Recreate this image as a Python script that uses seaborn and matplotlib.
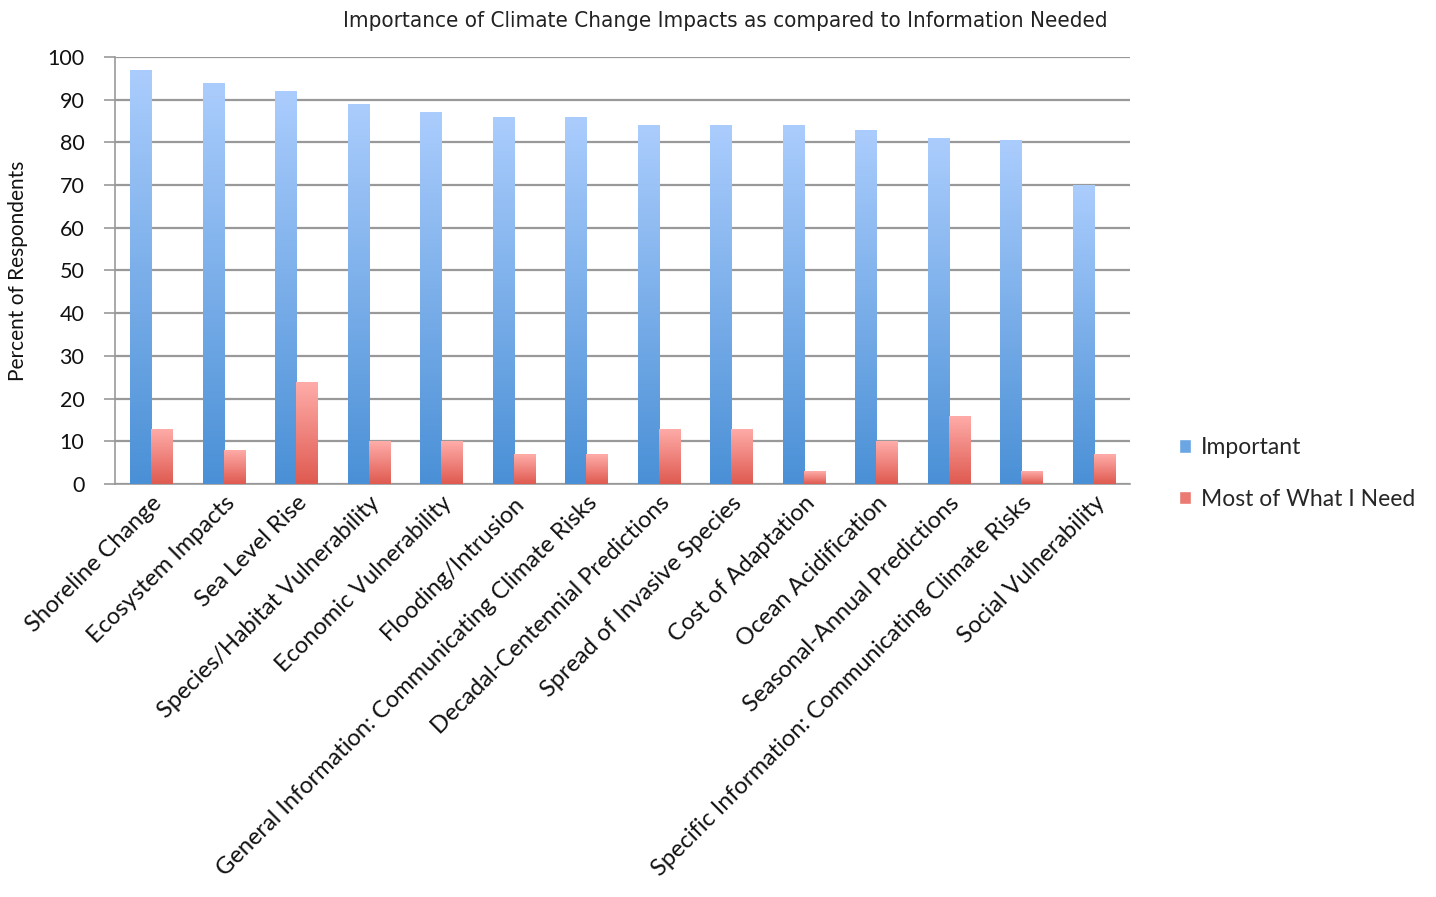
import numpy as np
import pandas as pd
import matplotlib
matplotlib.use("Agg")
import matplotlib.pyplot as plt
import seaborn as sns
from matplotlib.colors import LinearSegmentedColormap

# Donnees
categories = [
    "Shoreline Change",
    "Ecosystem Impacts",
    "Sea Level Rise",
    "Species/Habitat Vulnerability",
    "Economic Vulnerability",
    "Flooding/Intrusion",
    "General Information: Communicating Climate Risks",
    "Decadal-Centennial Predictions",
    "Spread of Invasive Species",
    "Cost of Adaptation",
    "Ocean Acidification",
    "Seasonal-Annual Predictions",
    "Specific Information: Communicating Climate Risks",
    "Social Vulnerability",
]
important = [97, 94, 92, 89, 87, 86, 86, 84, 84, 84, 83, 81, 80.5, 70]
most_needed = [13, 8, 24, 10, 10, 7, 7, 13, 13, 3, 10, 16, 3, 7]
series_names = ["Important", "Most of What I Need"]
y_ticks = list(range(0, 101, 10))

df = pd.DataFrame({
    "categorie": categories * 2,
    "valeur": important + most_needed,
    "serie": [series_names[0]] * len(categories) + [series_names[1]] * len(categories),
})

sns.set_style("white")
plt.rcParams["font.family"] = ["Lato", "DejaVu Sans"]

fig = plt.figure(figsize=(14.36, 8.97), dpi=100)
ax = fig.add_axes([0.080, 0.4604, 0.707, 0.4761])

base_colors = {"Important": "#5b9bd9", "Most of What I Need": "#e7635b"}
sns.barplot(data=df, x="categorie", y="valeur", hue="serie", order=categories,
            hue_order=series_names, palette=base_colors, width=0.58, gap=0,
            saturation=1, ax=ax, legend=False, zorder=3)

# ===== DEGRADES =====
grad = {
    0: LinearSegmentedColormap.from_list("bleu", ["#4a90d6", "#abcdfd"]),
    1: LinearSegmentedColormap.from_list("rouge", ["#df5a50", "#ffadaa"]),
}
n = len(categories)
for i, p in enumerate(ax.patches[:2 * n]):
    s = i // n
    x0, y0 = p.get_x(), p.get_y()
    w, h = p.get_width(), p.get_height()
    img = np.linspace(0, 1, 256).reshape(-1, 1)
    im = ax.imshow(img, extent=[x0, x0 + w, y0, y0 + h], origin="lower",
                   cmap=grad[s], aspect="auto", zorder=4)
    im.set_clip_path(p)
    p.set_alpha(0)

ax.set_xlim(-0.5, n - 0.5)
ax.set_ylim(0, 100)
ax.set_yticks(y_ticks)
ax.set_yticklabels([str(t) for t in y_ticks], fontsize=15.5, color="#111111")
ax.yaxis.grid(True, color="#999999", linewidth=1.6, zorder=0)
ax.set_axisbelow(True)

# ticks x aux frontieres des categories
ax.set_xticks(np.arange(n + 1) - 0.5, minor=True)
ax.set_xticks(np.arange(n))
ax.set_xticklabels(categories, rotation=45, ha="right", rotation_mode="anchor",
                   fontsize=17, color="#111111")
ax.tick_params(axis="x", which="major", length=0, pad=6)
ax.tick_params(axis="x", which="minor", length=6, color="#999999", width=1.2, direction="out")
ax.tick_params(axis="y", length=8, color="#999999", width=1.2, direction="out", pad=14, left=True)

for side in ["top", "right"]:
    ax.spines[side].set_visible(False)
for side in ["left", "bottom"]:
    ax.spines[side].set_color("#999999")
    ax.spines[side].set_linewidth(1.2)

ax.set_xlabel("")
ax.set_ylabel("Percent of Respondents", fontsize=15, color="#111111", labelpad=14)

fig.suptitle("Importance of Climate Change Impacts as compared to Information Needed",
             x=0.505, y=0.988, fontsize=16, color="#222222",
             family=["Liberation Sans Narrow", "DejaVu Sans"], stretch="condensed")

# ===== LEGENDE =====
handles = [plt.Rectangle((0, 0), 1, 1, facecolor=c) for c in ["#6aa6e4", "#ea7a72"]]
fig.legend(handles, series_names, loc="center left", bbox_to_anchor=(0.807, 0.472),
           frameon=False, fontsize=16.5, handlelength=0.5, handleheight=0.5,
           handletextpad=0.45, labelspacing=1.35)

fig.savefig("out.png", dpi=100)
